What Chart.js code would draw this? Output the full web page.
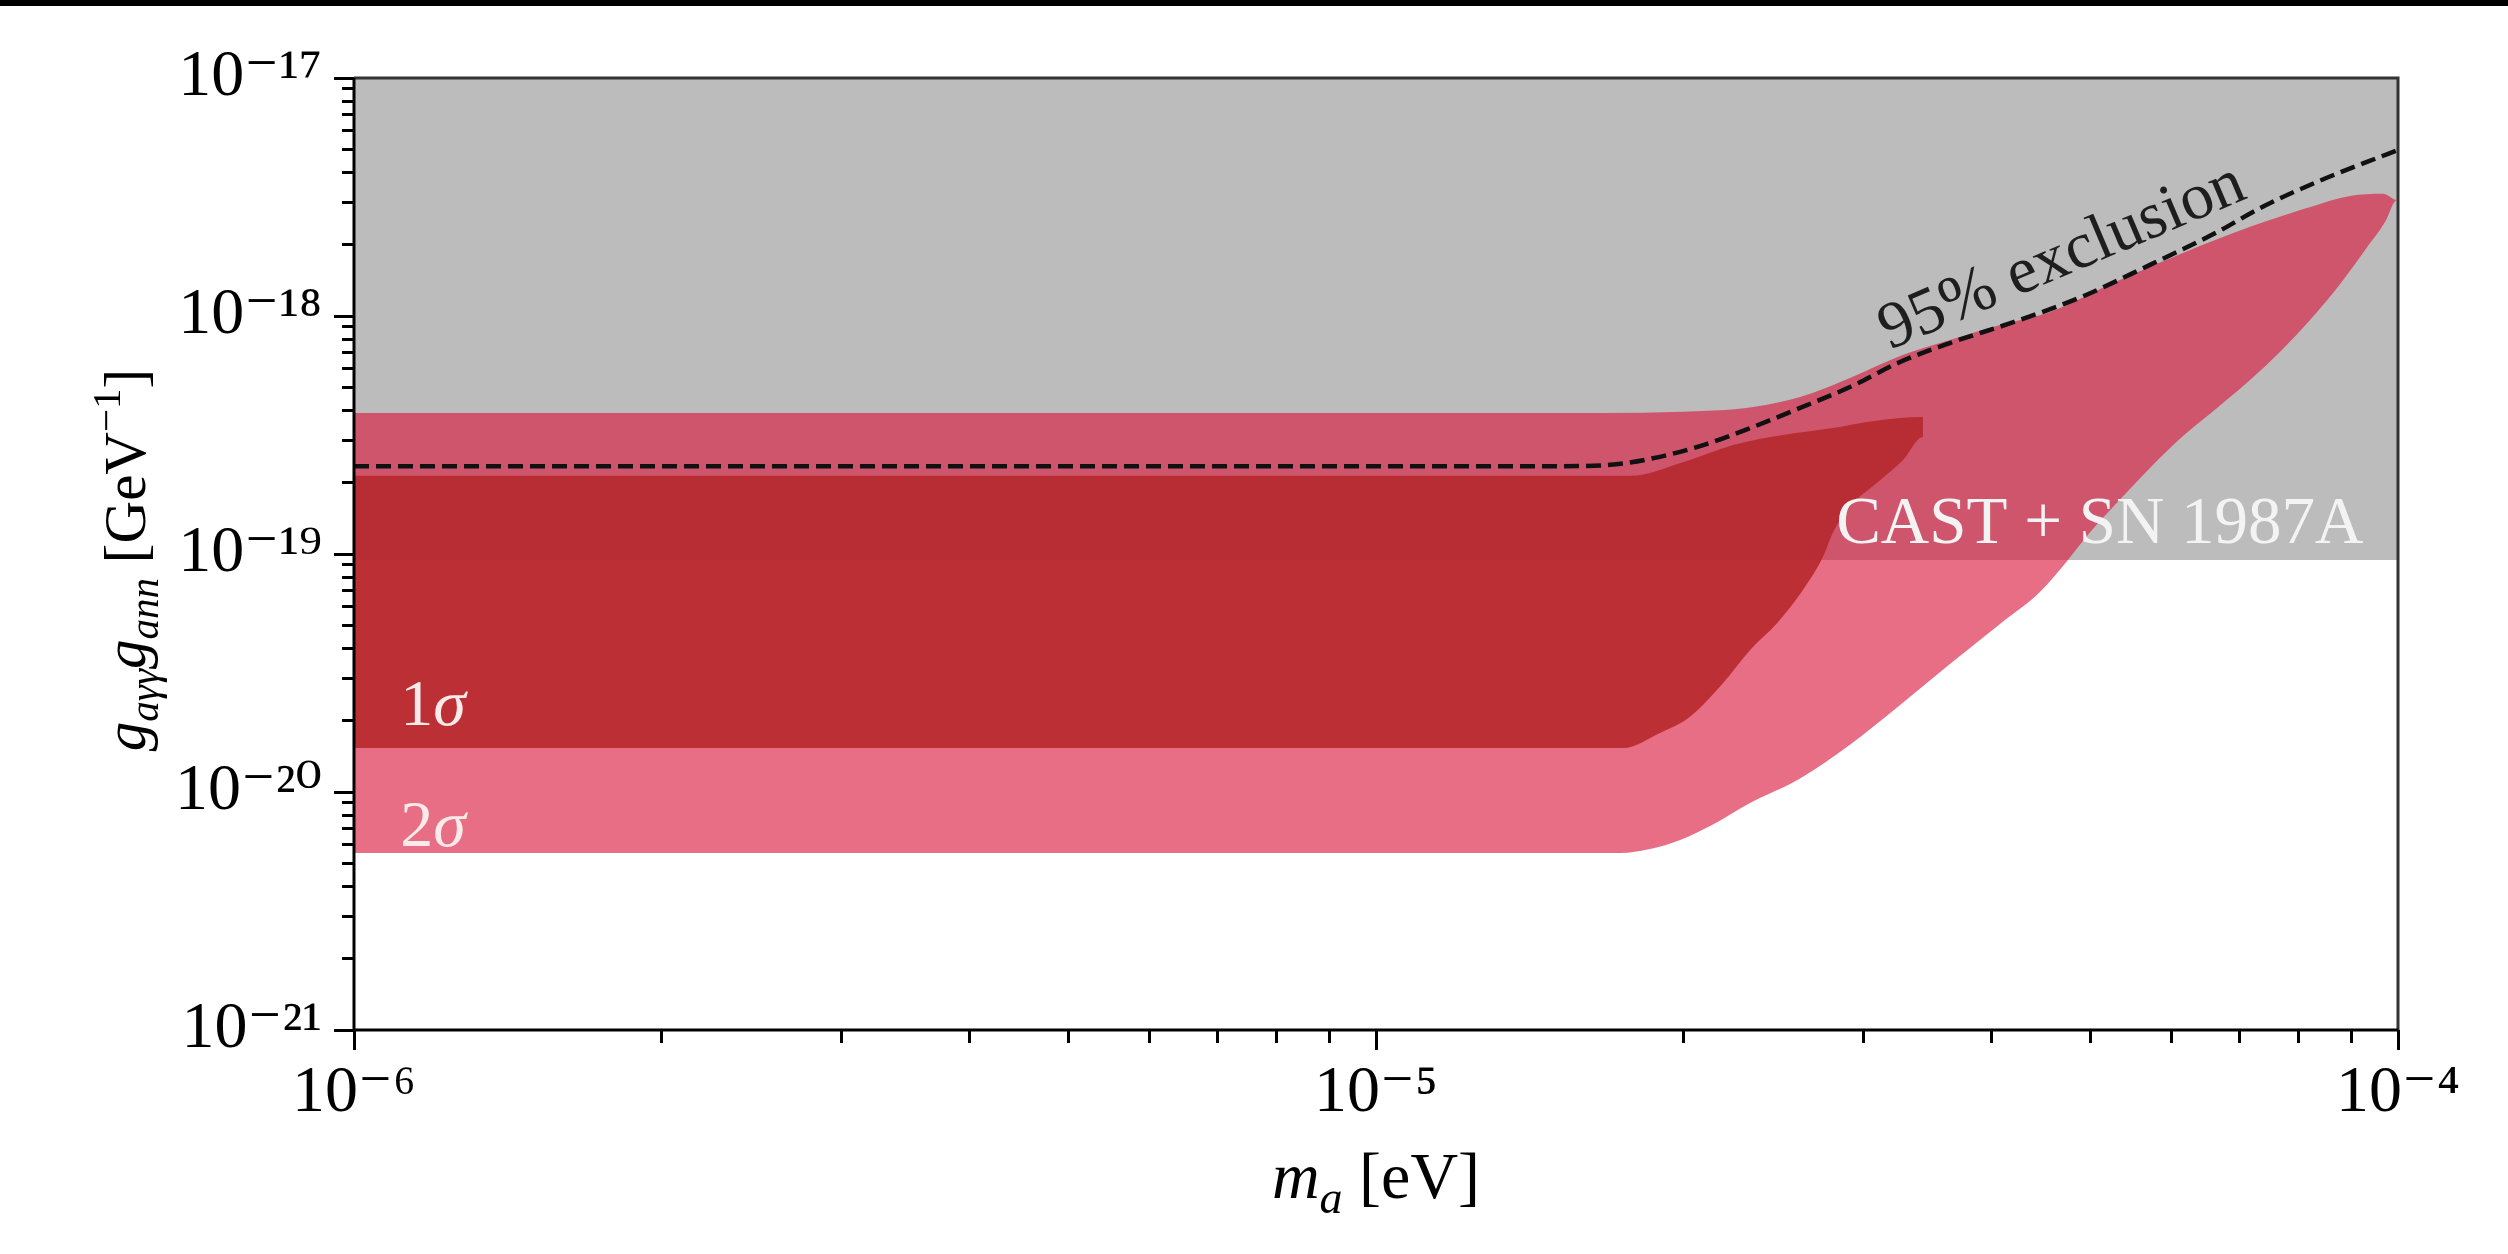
<!DOCTYPE html>
<html>
<head>
<meta charset="utf-8">
<title>Axion coupling vs mass</title>
<script src="https://cdn.jsdelivr.net/npm/chart.js@4.4.1/dist/chart.umd.min.js"></script>
<style>
  html, body { margin: 0; padding: 0; background: #fff; }
  #wrap { position: relative; width: 2508px; height: 1254px; overflow: hidden; }
  #topbar { position: absolute; left: 0; top: 0; width: 2508px; height: 6px; background: #000; }
  canvas { display: block; }
</style>
</head>
<body>
<div id="wrap">
  <canvas id="myChart" width="2508" height="1254"></canvas>
  <div id="topbar"></div>
</div>
<script>
// CAST + SN 1987A bound (grey, excluded above)
var castMass = [1e-6, 1e-4];
var castLimit = [9.44e-20, 9.44e-20];

// 2 sigma region, outline traced clockwise from the left
var sigma2Mass = [1.00e-6, 1.514e-5, 2.196e-5, 2.600e-5, 2.909e-5, 3.257e-5, 3.644e-5, 4.079e-5,
  4.565e-5, 5.309e-5, 6.161e-5, 7.165e-5, 8.332e-5, 8.974e-5, 9.667e-5, 9.977e-5,
  9.712e-5, 9.282e-5, 8.774e-5, 8.202e-5, 7.664e-5, 7.165e-5, 6.652e-5, 6.161e-5,
  5.719e-5, 5.309e-5, 4.995e-5, 4.754e-5, 4.463e-5, 4.079e-5, 3.644e-5, 3.257e-5,
  2.909e-5, 2.600e-5, 2.323e-5, 2.132e-5, 1.984e-5, 1.854e-5, 1.733e-5, 1.00e-6];
var sigma2Coupling = [3.91e-19, 3.91e-19, 4.03e-19, 4.57e-19, 5.49e-19, 6.79e-19, 7.93e-19, 9.17e-19,
  1.04e-18, 1.40e-18, 1.84e-18, 2.37e-18, 2.93e-18, 3.19e-18, 3.26e-18, 3.07e-18,
  2.48e-18, 1.89e-18, 1.36e-18, 9.62e-19, 7.06e-19, 5.38e-19, 4.11e-19, 3.13e-19,
  2.30e-19, 1.64e-19, 1.23e-19, 9.44e-20, 6.92e-20, 5.08e-20, 3.45e-20, 2.32e-20,
  1.58e-20, 1.14e-20, 8.99e-21, 7.27e-21, 6.29e-21, 5.76e-21, 5.54e-21, 5.54e-21];

// 1 sigma region
var sigma1Mass = [1.00e-6, 1.773e-5, 1.997e-5, 2.236e-5, 2.502e-5, 2.800e-5, 3.023e-5, 3.257e-5,
  3.429e-5, 3.429e-5, 3.279e-5, 3.092e-5, 2.909e-5, 2.800e-5, 2.737e-5, 2.617e-5,
  2.469e-5, 2.323e-5, 2.186e-5, 2.029e-5, 1.896e-5, 1.745e-5, 1.00e-6];
var sigma1Coupling = [2.13e-19, 2.13e-19, 2.43e-19, 2.87e-19, 3.16e-19, 3.38e-19, 3.59e-19, 3.73e-19,
  3.76e-19, 3.10e-19, 2.48e-19, 1.99e-19, 1.58e-19, 1.23e-19, 9.71e-20, 7.06e-20,
  5.13e-20, 3.95e-20, 2.87e-20, 2.07e-20, 1.77e-20, 1.53e-20, 1.53e-20];

// 95% exclusion curve
var exclMass = [1.00e-6, 1.514e-5, 1.694e-5, 1.854e-5, 2.075e-5, 2.323e-5, 2.600e-5, 2.909e-5,
  3.257e-5, 3.644e-5, 4.238e-5, 4.918e-5, 5.719e-5, 6.652e-5, 7.328e-5, 8.332e-5, 9.325e-5, 1.00e-4];
var exclCoupling = [2.34e-19, 2.34e-19, 2.37e-19, 2.51e-19, 2.84e-19, 3.38e-19, 4.11e-19, 5.03e-19,
  6.41e-19, 7.70e-19, 9.53e-19, 1.21e-18, 1.64e-18, 2.25e-18, 2.84e-18, 3.66e-18, 4.44e-18, 4.98e-18];

var xMajor = [1e-6, 1e-5, 1e-4];
var xTickLabels = ["10\u207B\u2076", "10\u207B\u2075", "10\u207B\u2074"];
var yMajor = [1e-21, 1e-20, 1e-19, 1e-18, 1e-17];
var yTickLabels = ["10\u207B\u00B2\u00B9", "10\u207B\u00B2\u2070", "10\u207B\u00B9\u2079", "10\u207B\u00B9\u2078", "10\u207B\u00B9\u2077"];

var FONT = '"Liberation Serif", "DejaVu Serif", serif';

function pts(xs, ys) {
  return xs.map(function (x, i) { return { x: x, y: ys[i] }; });
}

// majors plus 2..9 minor ticks in each decade
function logTicks(majors) {
  var out = [];
  for (var i = 0; i < majors.length; i++) {
    out.push({ value: majors[i] });
    if (i < majors.length - 1) {
      for (var m = 2; m <= 9; m++) out.push({ value: majors[i] * m });
    }
  }
  return out;
}

function isMajor(v) {
  var l = Math.log10(v);
  return Math.abs(l - Math.round(l)) < 1e-6;
}

function labelFor(v, majors, labels) {
  for (var i = 0; i < majors.length; i++) {
    if (Math.abs(majors[i] / v - 1) < 1e-6) return labels[i];
  }
  return "";
}

// text made of pieces: italic, subscript, superscript
function drawRich(ctx, parts, x, y, size, color, align) {
  function font(p) {
    var s = (p.sub || p.sup) ? size * 0.7 : size;
    return (p.it ? "italic " : "") + Math.round(s) + "px " + FONT;
  }
  var w = 0;
  parts.forEach(function (p) { ctx.font = font(p); w += ctx.measureText(p.t).width; });
  var cx = align === "center" ? x - w / 2 : x;
  ctx.fillStyle = color;
  ctx.textBaseline = "alphabetic";
  ctx.textAlign = "left";
  parts.forEach(function (p) {
    ctx.font = font(p);
    var dy = p.sub ? size * 0.22 : (p.sup ? -size * 0.42 : 0);
    ctx.fillText(p.t, cx, y + dy);
    cx += ctx.measureText(p.t).width;
  });
}

var labelsPlugin = {
  id: "labels",
  afterDraw: function (chart) {
    var ctx = chart.ctx, a = chart.chartArea;
    var xs = chart.scales.x, ys = chart.scales.y;
    ctx.save();

    // frame
    ctx.lineWidth = 3;
    ctx.strokeStyle = "#333";
    ctx.beginPath();
    ctx.moveTo(a.left, a.top); ctx.lineTo(a.right, a.top); ctx.lineTo(a.right, a.bottom);
    ctx.stroke();
    ctx.strokeStyle = "#000";
    ctx.beginPath();
    ctx.moveTo(a.left, a.top); ctx.lineTo(a.left, a.bottom); ctx.lineTo(a.right, a.bottom);
    ctx.stroke();

    // axis titles
    drawRich(ctx, [{ t: "m", it: true }, { t: "a", it: true, sub: true }, { t: " [eV]" }],
      (a.left + a.right) / 2, 1198, 66, "#000", "center");

    ctx.save();
    ctx.translate(145, (a.top + a.bottom) / 2 + 6);
    ctx.rotate(-Math.PI / 2);
    drawRich(ctx, [{ t: "g", it: true }, { t: "a\u03B3\u03B3", it: true, sub: true },
      { t: "g", it: true }, { t: "ann", it: true, sub: true },
      { t: " [GeV" }, { t: "\u22121", sup: true }, { t: "]" }], 0, 0, 59, "#000", "center");
    ctx.restore();

    // region labels
    drawRich(ctx, [{ t: "1" }, { t: "\u03C3", it: true }],
      xs.getPixelForValue(1.11e-6), ys.getPixelForValue(1.91e-20), 66, "#fbeaea", "left");
    drawRich(ctx, [{ t: "2" }, { t: "\u03C3", it: true }],
      xs.getPixelForValue(1.11e-6), ys.getPixelForValue(5.93e-21), 66, "#fbeaea", "left");
    drawRich(ctx, [{ t: "CAST + SN 1987A" }],
      xs.getPixelForValue(2.82e-5), ys.getPixelForValue(1.11e-19), 67, "#f3f3f3", "left");

    // rotated label along the exclusion curve
    var x0 = xs.getPixelForValue(3.18e-5), y0 = ys.getPixelForValue(7.19e-19);
    var x1 = xs.getPixelForValue(7.24e-5), y1 = ys.getPixelForValue(3.22e-18);
    ctx.save();
    ctx.translate(x0, y0);
    ctx.rotate(Math.atan2(y1 - y0, x1 - x0));
    drawRich(ctx, [{ t: "95% exclusion" }], 0, 0, 66, "#1e1e1e", "left");
    ctx.restore();

    ctx.restore();
  }
};

Chart.defaults.font.family = FONT;

var ctx = document.getElementById("myChart").getContext("2d");
var myChart = new Chart(ctx, {
  type: "scatter",
  data: {
    datasets: [
      {
        label: "95% exclusion",
        data: pts(exclMass, exclCoupling),
        showLine: true,
        borderColor: "#111",
        borderWidth: 4.5,
        borderDash: [15, 7],
        pointRadius: 0,
        fill: false,
        cubicInterpolationMode: "monotone",
        order: 0
      },
      {
        label: "1 sigma",
        data: pts(sigma1Mass, sigma1Coupling),
        showLine: true,
        borderWidth: 0,
        pointRadius: 0,
        backgroundColor: "rgba(181, 39, 43, 0.88)",
        fill: "shape",
        cubicInterpolationMode: "monotone",
        order: 1
      },
      {
        label: "2 sigma",
        data: pts(sigma2Mass, sigma2Coupling),
        showLine: true,
        borderWidth: 0,
        pointRadius: 0,
        backgroundColor: "rgba(219, 25, 62, 0.63)",
        fill: "shape",
        cubicInterpolationMode: "monotone",
        order: 2
      },
      {
        label: "CAST + SN 1987A",
        data: pts(castMass, castLimit),
        showLine: true,
        borderWidth: 0,
        pointRadius: 0,
        backgroundColor: "#bcbcbc",
        fill: "end",
        order: 3
      }
    ]
  },
  options: {
    responsive: false,
    animation: false,
    devicePixelRatio: 1,
    layout: { padding: { left: 0, top: 78, right: 110, bottom: 0 } },
    plugins: {
      legend: { display: false },
      tooltip: { enabled: false }
    },
    scales: {
      x: {
        type: "logarithmic",
        position: "bottom",
        min: 1e-6,
        max: 1e-4,
        afterBuildTicks: function (s) { s.ticks = logTicks(xMajor); },
        afterFit: function (s) { s.height = 224; },
        border: { display: false },
        grid: {
          drawOnChartArea: false,
          tickLength: 20,
          tickWidth: 3,
          tickColor: "#000",
          tickBorderDash: function (c) {
            return (c.tick && !isMajor(c.tick.value)) ? [13, 1000] : [];
          }
        },
        ticks: {
          autoSkip: false,
          maxRotation: 0,
          minRotation: 0,
          padding: 4,
          color: "#000",
          font: { size: 66 },
          callback: function (v) { return labelFor(v, xMajor, xTickLabels); }
        }
      },
      y: {
        type: "logarithmic",
        position: "left",
        min: 1e-21,
        max: 1e-17,
        afterBuildTicks: function (s) { s.ticks = logTicks(yMajor); },
        afterFit: function (s) { s.width = 354; },
        border: { display: false },
        grid: {
          drawOnChartArea: false,
          tickLength: 20,
          tickWidth: 3,
          tickColor: "#000",
          tickBorderDash: function (c) {
            return (c.tick && !isMajor(c.tick.value)) ? [0, 8, 12, 1000] : [];
          }
        },
        ticks: {
          autoSkip: false,
          padding: 12,
          color: "#000",
          font: { size: 66 },
          callback: function (v) { return labelFor(v, yMajor, yTickLabels); }
        }
      }
    }
  },
  plugins: [labelsPlugin]
});
</script>
</body>
</html>
